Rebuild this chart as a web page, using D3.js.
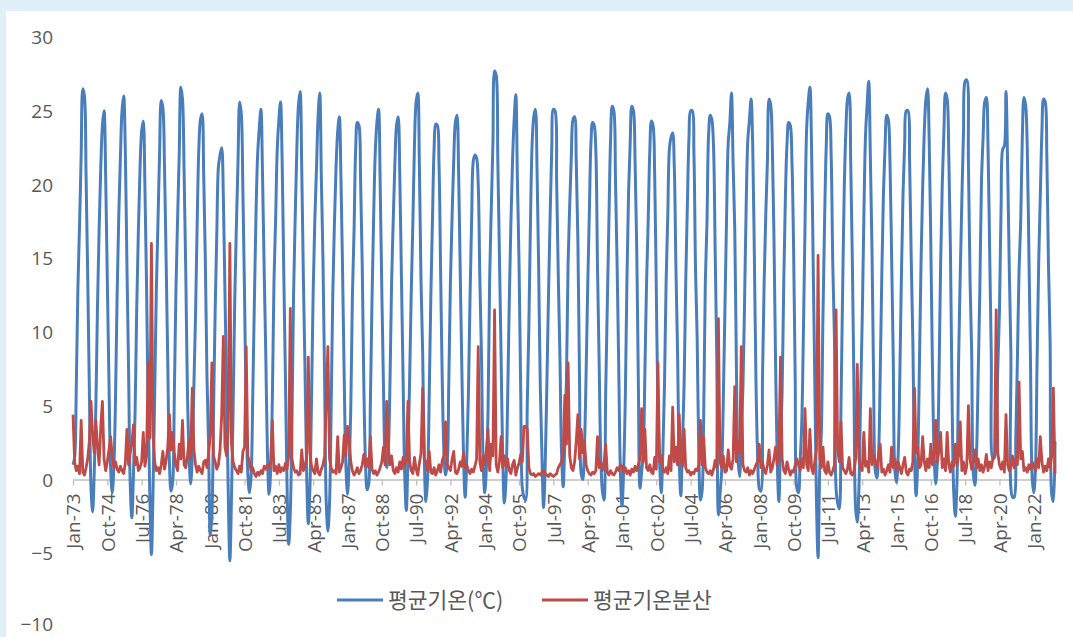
<!DOCTYPE html>
<html>
<head>
<meta charset="utf-8">
<script src="https://cdn.jsdelivr.net/npm/d3@7"></script>
<style>
  html, body { margin: 0; padding: 0; background: #dff0f9; }
  svg { display: block; }
  text { font-family: "Open Sans", "Noto Sans CJK KR", sans-serif; fill: #595959; }
</style>
</head>
<body>
<svg id="chart" width="1073" height="637"></svg>
<script>
// Monthly mean temperature (°C), one row per year, Jan..Dec (1973-2022, then Jan-Feb 2023)
const tempRows = [
  [1.0, 1.5, 6.2, 13.0, 17.2, 22.0, 26.5, 26.0, 20.6, 13.8, 6.2, -0.5],
  [-2.2, 0.5, 5.0, 11.8, 17.0, 21.2, 24.0, 25.0, 20.5, 13.5, 6.8, 0.8],
  [-0.9, 0.8, 5.4, 12.5, 17.8, 21.8, 25.0, 26.0, 22.4, 14.6, 7.6, -0.2],
  [-2.6, 0.3, 4.6, 11.6, 16.8, 21.0, 23.6, 24.3, 20.0, 13.2, 4.8, -1.0],
  [-5.1, -0.6, 5.8, 12.8, 17.4, 22.2, 25.7, 25.2, 21.2, 14.8, 8.0, 1.2],
  [-0.8, -0.2, 5.6, 12.8, 17.6, 22.0, 26.6, 25.8, 20.8, 14.2, 6.2, 1.8],
  [-0.3, 1.6, 6.4, 11.2, 17.4, 22.4, 24.4, 24.8, 20.6, 14.8, 7.0, 2.2],
  [-3.8, -2.4, 4.4, 11.4, 16.6, 21.2, 22.0, 22.5, 19.2, 12.6, 6.4, -0.8],
  [-5.5, -1.2, 4.8, 12.2, 17.2, 21.6, 25.6, 24.8, 19.4, 12.4, 4.6, 0.4],
  [-0.9, 0.2, 5.6, 12.0, 18.0, 22.0, 23.8, 25.1, 20.6, 14.2, 8.4, 1.8],
  [-1.0, 0.6, 5.4, 13.4, 17.6, 22.4, 24.4, 25.6, 21.6, 14.0, 7.0, -0.4],
  [-4.4, -2.2, 3.8, 12.6, 17.8, 22.4, 25.4, 26.3, 21.0, 13.6, 7.4, 0.4],
  [-3.0, -0.6, 5.6, 12.8, 17.6, 21.0, 24.6, 26.2, 20.4, 14.8, 6.6, -1.6],
  [-3.5, -1.6, 4.8, 12.6, 17.4, 21.2, 23.6, 24.6, 20.4, 14.0, 6.8, 1.0],
  [-1.0, 1.0, 4.8, 12.4, 16.8, 22.4, 24.2, 24.0, 20.4, 14.6, 6.4, 1.2],
  [-0.7, -0.3, 5.2, 12.2, 17.8, 22.2, 24.2, 25.1, 20.0, 12.8, 6.4, 1.6],
  [0.8, 2.0, 6.6, 13.4, 17.6, 21.4, 24.0, 24.6, 20.6, 13.8, 7.0, 0.4],
  [-2.1, 1.6, 6.6, 12.6, 17.4, 22.8, 25.6, 26.2, 21.2, 13.4, 8.6, 1.4],
  [-1.5, 0.0, 5.6, 12.4, 17.6, 22.4, 24.1, 24.0, 21.4, 14.0, 6.6, 2.0],
  [0.3, 1.0, 6.6, 13.4, 17.8, 21.6, 24.2, 24.7, 20.8, 14.0, 7.4, 1.6],
  [-1.2, 1.4, 5.8, 12.4, 17.8, 21.6, 22.0, 21.8, 20.0, 13.6, 8.4, 1.2],
  [-0.9, 0.8, 4.6, 13.6, 18.4, 22.8, 27.7, 27.4, 21.6, 15.0, 8.4, 1.4],
  [-1.6, 0.0, 5.4, 12.0, 17.4, 21.6, 24.4, 26.1, 20.2, 14.6, 6.0, -0.6],
  [-1.2, -1.4, 5.0, 10.4, 17.6, 22.8, 24.6, 25.1, 21.0, 14.2, 6.2, 1.6],
  [-1.9, 1.0, 6.4, 12.4, 17.8, 22.4, 25.1, 25.0, 20.2, 13.8, 8.4, 1.8],
  [-0.5, 2.6, 6.8, 14.6, 18.6, 22.0, 24.4, 24.6, 21.6, 16.2, 6.8, 0.4],
  [0.0, 2.2, 7.0, 13.0, 18.0, 22.8, 24.2, 24.0, 22.2, 14.4, 8.0, 1.6],
  [-0.8, -1.4, 5.8, 11.8, 17.6, 23.0, 25.3, 25.0, 20.4, 14.6, 7.6, 0.6],
  [-1.8, 0.6, 5.4, 13.4, 19.4, 22.8, 25.3, 25.0, 21.6, 15.8, 6.6, -0.6],
  [0.5, 1.8, 7.2, 13.2, 17.4, 22.2, 24.3, 24.0, 20.6, 12.8, 4.8, 1.2],
  [-0.9, 1.8, 6.4, 13.4, 17.8, 22.4, 23.2, 23.5, 21.2, 14.4, 8.6, 1.4],
  [-1.1, 2.4, 6.4, 13.4, 18.6, 23.2, 25.0, 25.0, 22.2, 14.2, 9.6, 1.8],
  [-1.4, -0.8, 4.4, 13.4, 17.4, 23.4, 24.7, 24.4, 22.6, 15.6, 8.2, -2.4],
  [-1.0, 0.6, 5.4, 11.6, 17.8, 22.8, 24.2, 26.2, 21.4, 17.0, 7.8, 1.4],
  [0.2, 3.6, 6.2, 12.0, 18.6, 23.0, 24.4, 25.8, 22.6, 15.2, 6.6, 1.6],
  [-0.6, -0.8, 7.0, 13.4, 18.0, 21.6, 25.8, 25.4, 22.6, 16.4, 7.8, 1.2],
  [-1.5, 2.6, 6.0, 13.4, 19.2, 22.8, 24.2, 24.0, 21.6, 15.8, 6.8, -0.6],
  [-0.9, 1.2, 3.8, 9.8, 17.2, 23.8, 25.6, 26.6, 22.6, 14.6, 6.6, -1.4],
  [-5.3, 0.6, 3.2, 11.2, 17.6, 22.6, 24.8, 24.6, 22.0, 14.6, 9.6, -0.6],
  [-1.6, -2.0, 4.8, 12.6, 19.6, 23.6, 25.8, 26.2, 21.4, 14.6, 5.8, -2.0],
  [-2.9, -0.6, 5.4, 10.8, 17.6, 23.2, 25.4, 27.0, 21.8, 15.6, 6.6, 0.6],
  [0.1, 1.6, 7.0, 13.8, 19.4, 22.6, 24.7, 24.4, 21.6, 15.2, 8.2, 0.6],
  [-0.2, 1.6, 6.8, 13.8, 19.4, 22.8, 25.0, 25.0, 21.6, 15.0, 9.4, 1.6],
  [-1.1, 1.4, 7.6, 14.6, 19.8, 23.6, 25.8, 26.5, 23.0, 16.0, 7.6, 1.8],
  [-0.3, 1.2, 6.8, 14.6, 20.0, 23.6, 26.2, 25.8, 22.0, 15.6, 5.6, -0.8],
  [-2.5, -0.2, 8.0, 13.8, 19.0, 23.6, 27.0, 27.1, 21.6, 13.6, 8.6, 0.4],
  [-0.4, 1.8, 7.2, 12.8, 20.2, 23.2, 25.6, 25.9, 22.6, 15.6, 8.4, 1.4],
  [1.5, 2.8, 7.6, 11.4, 18.4, 22.4, 22.6, 26.3, 21.4, 14.4, 8.6, -1.2],
  [-1.2, 2.8, 8.2, 14.2, 17.4, 23.2, 25.9, 25.4, 22.6, 15.6, 8.0, 0.2],
  [-0.9, 0.6, 7.8, 14.6, 19.2, 23.6, 25.8, 25.6, 22.0, 14.6, 9.4, -1.0],
  [-1.5, 2.6]
];

// Monthly variance of mean temperature, same layout
const varRows = [
  [4.4, 1.2, 0.6, 0.9, 0.4, 4.0, 0.5, 0.3, 0.8, 1.4, 2.6, 5.3],
  [3.0, 1.8, 4.0, 2.2, 1.0, 3.6, 5.3, 1.4, 0.6, 1.2, 2.0, 2.9],
  [1.6, 0.8, 1.2, 0.7, 0.5, 0.9, 0.6, 0.4, 1.1, 3.4, 1.0, 1.8],
  [2.4, 3.7, 1.0, 1.5, 0.6, 0.8, 1.2, 3.2, 0.9, 1.6, 7.9, 2.8],
  [16.0, 3.0, 1.2, 0.6, 0.8, 0.4, 1.0, 1.9, 0.7, 1.3, 2.2, 4.4],
  [2.0, 3.2, 1.8, 1.0, 0.6, 2.4, 1.4, 4.0, 1.0, 0.8, 1.6, 2.6],
  [1.4, 6.2, 2.0, 1.0, 0.5, 0.9, 0.6, 0.4, 1.2, 1.3, 0.8, 1.8],
  [3.0, 7.9, 1.6, 1.2, 0.7, 1.0, 2.0, 4.4, 9.7, 2.2, 1.6, 3.4],
  [16.0, 2.4, 1.2, 0.8, 0.6, 0.4, 0.9, 0.5, 1.9, 2.2, 9.0, 1.6],
  [1.2, 0.6, 0.8, 0.4, 0.2, 0.5, 0.3, 0.6, 0.4, 0.9, 0.7, 1.0],
  [0.8, 1.2, 4.0, 0.6, 0.9, 0.4, 1.0, 0.5, 0.8, 0.6, 1.1, 0.7],
  [1.6, 11.6, 1.4, 0.8, 0.5, 0.6, 0.3, 0.4, 2.0, 0.6, 1.0, 1.4],
  [8.3, 1.8, 0.9, 0.6, 0.4, 1.4, 0.5, 0.3, 0.7, 1.0, 1.6, 5.3],
  [9.0, 1.4, 0.8, 0.5, 0.6, 0.4, 2.9, 0.5, 0.8, 1.2, 3.0, 1.6],
  [3.6, 2.8, 1.2, 0.6, 0.3, 0.5, 0.8, 0.4, 0.6, 1.0, 1.7, 0.9],
  [1.4, 0.8, 2.9, 0.7, 0.4, 0.6, 0.3, 0.5, 0.8, 1.2, 2.2, 1.0],
  [5.3, 2.2, 1.0, 1.6, 0.6, 0.4, 0.8, 0.5, 1.2, 0.7, 1.5, 0.9],
  [1.4, 5.3, 1.2, 0.6, 0.4, 1.5, 0.7, 0.3, 1.1, 1.8, 6.2, 1.4],
  [1.2, 0.6, 1.9, 0.5, 0.4, 0.8, 0.3, 0.6, 1.0, 0.5, 1.3, 1.6],
  [3.9, 1.0, 0.8, 0.6, 1.4, 1.9, 0.5, 0.4, 0.7, 1.2, 0.9, 1.8],
  [0.8, 1.0, 0.6, 0.4, 0.7, 0.5, 0.9, 1.4, 9.0, 1.2, 0.6, 1.6],
  [1.0, 2.0, 3.4, 0.6, 2.4, 1.6, 11.5, 1.0, 0.5, 1.2, 2.9, 0.8],
  [1.6, 0.9, 1.4, 0.6, 0.4, 1.0, 1.3, 0.3, 0.8, 1.1, 1.7, 1.2],
  [3.6, 3.6, 3.4, 0.8, 0.4, 0.3, 0.4, 0.2, 0.3, 0.4, 0.3, 0.5],
  [0.6, 0.4, 0.3, 0.2, 0.4, 0.3, 0.2, 0.3, 0.4, 0.8, 1.0, 1.2],
  [1.8, 5.7, 2.4, 7.9, 1.6, 0.8, 0.6, 1.2, 2.6, 4.4, 1.4, 3.4],
  [1.8, 2.6, 1.0, 0.6, 0.4, 0.3, 0.5, 0.4, 0.6, 2.9, 0.8, 1.2],
  [0.6, 1.0, 2.4, 0.5, 0.3, 0.6, 0.4, 0.3, 0.5, 0.8, 0.6, 1.0],
  [0.9, 0.5, 0.8, 0.4, 0.6, 0.3, 0.7, 0.5, 0.9, 0.6, 1.0, 1.4],
  [4.8, 1.2, 3.4, 0.8, 0.6, 1.0, 0.5, 0.4, 1.5, 0.7, 7.9, 1.2],
  [1.6, 0.6, 0.5, 0.8, 0.4, 1.6, 0.6, 4.9, 1.2, 2.2, 1.0, 4.4],
  [1.4, 0.9, 3.4, 0.8, 0.5, 0.6, 0.3, 0.5, 0.4, 0.7, 0.6, 1.0],
  [4.0, 1.0, 2.9, 0.8, 0.5, 0.4, 0.6, 0.3, 0.7, 1.3, 0.8, 10.9],
  [1.2, 0.8, 1.6, 0.5, 0.6, 2.0, 0.9, 0.7, 1.4, 6.3, 1.2, 2.6],
  [1.8, 9.0, 1.0, 0.6, 0.5, 0.8, 0.3, 0.6, 0.4, 0.7, 1.0, 1.2],
  [2.4, 0.8, 1.2, 0.6, 0.4, 1.0, 2.0, 0.5, 0.8, 1.4, 2.2, 1.0],
  [1.6, 8.3, 1.4, 0.6, 0.4, 1.2, 0.7, 0.3, 0.6, 0.5, 1.0, 1.4],
  [1.0, 0.6, 1.4, 0.8, 4.8, 1.0, 0.6, 3.4, 0.8, 0.4, 1.2, 2.0],
  [15.2, 1.4, 0.8, 2.2, 0.6, 0.4, 1.2, 0.5, 0.3, 0.6, 1.0, 11.5],
  [2.0, 1.2, 3.9, 0.8, 0.6, 0.4, 0.7, 1.5, 0.4, 0.3, 0.6, 1.4],
  [7.8, 1.4, 0.8, 0.6, 3.2, 0.9, 1.2, 0.5, 4.8, 1.0, 1.6, 1.2],
  [0.8, 1.6, 2.4, 0.5, 0.7, 0.3, 0.6, 1.0, 0.5, 2.2, 0.8, 1.4],
  [0.6, 1.2, 0.8, 0.4, 1.0, 1.5, 0.5, 0.3, 0.7, 0.6, 1.2, 6.2],
  [1.8, 2.2, 0.8, 1.0, 2.9, 1.2, 0.6, 1.4, 0.8, 2.4, 1.0, 1.6],
  [4.0, 1.2, 2.0, 3.2, 0.8, 1.4, 0.6, 3.2, 1.0, 0.5, 1.2, 0.9],
  [2.4, 1.0, 1.6, 3.9, 0.6, 1.2, 0.4, 0.9, 5.0, 1.4, 0.7, 1.2],
  [2.0, 0.8, 1.4, 0.6, 1.0, 0.5, 0.9, 1.7, 0.6, 1.2, 0.8, 1.4],
  [1.6, 11.5, 1.8, 1.0, 0.7, 1.2, 0.5, 4.4, 1.0, 0.6, 0.9, 1.6],
  [0.8, 1.4, 1.0, 6.6, 1.4, 1.9, 0.6, 0.8, 0.5, 1.0, 0.7, 1.2],
  [0.9, 0.6, 1.4, 0.8, 2.9, 1.2, 0.5, 0.9, 0.6, 1.4, 0.8, 1.6],
  [6.2, 0.4]
];

const firstYear = 1973;
const monthAbbr = ["Jan","Feb","Mar","Apr","May","Jun","Jul","Aug","Sep","Oct","Nov","Dec"];

// Category axis labels shown every 21 months
const tickLabels = [
  "Jan-73","Oct-74","Jul-76","Apr-78","Jan-80","Oct-81","Jul-83","Apr-85",
  "Jan-87","Oct-88","Jul-90","Apr-92","Jan-94","Oct-95","Jul-97","Apr-99",
  "Jan-01","Oct-02","Jul-04","Apr-06","Jan-08","Oct-09","Jul-11","Apr-13",
  "Jan-15","Oct-16","Jul-18","Apr-20","Jan-22"
];
const yTickValues = [30, 25, 20, 15, 10, 5, 0, -5, -10];
const seriesNames = ["평균기온(℃)", "평균기온분산"];
const seriesColors = ["#4a7ebb", "#be4b48"];

// Build month categories like "Jan-73"
const categories = [];
tempRows.forEach((row, yi) => {
  row.forEach((_, mi) => {
    const yy = String((firstYear + yi) % 100).padStart(2, "0");
    categories.push(`${monthAbbr[mi]}-${yy}`);
  });
});
const temp = tempRows.flat();
const variance = varRows.flat();

const svg = d3.select("#chart");
const W = 1073, H = 637;

// white chart panel inside the light frame
svg.append("rect").attr("x", 6).attr("y", 11).attr("width", W - 6).attr("height", H - 11).attr("fill", "#ffffff");

const x = d3.scalePoint().domain(categories).range([73, 1055]);
const y = d3.scaleLinear().domain([-10, 30]).range([627, 37]);

// value axis labels (no axis line, no gridlines)
const yAxis = d3.axisLeft(y).tickValues(yTickValues).tickSize(0).tickPadding(0);
const yg = svg.append("g").attr("transform", "translate(53,0)").call(yAxis);
yg.select(".domain").remove();
yg.selectAll("text")
  .attr("x", 0).attr("dy", "0.35em")
  .style("font-family", '"Open Sans", sans-serif')
  .style("font-size", "19px").attr("fill", "#595959");
// keep the lowest label clear of the bottom edge
yg.selectAll(".tick").filter(d => d === -10).select("text").attr("y", -3);

// category axis at zero
const xAxis = d3.axisBottom(x).tickValues(tickLabels).tickSize(6).tickPadding(0).tickSizeOuter(0);
const xg = svg.append("g").attr("transform", `translate(0,${y(0)})`).call(xAxis);
xg.select(".domain").attr("stroke", "#bfbfbf").attr("stroke-width", 1.3);
xg.selectAll(".tick line").attr("stroke", "#bfbfbf").attr("stroke-width", 1.3);
xg.selectAll(".tick text")
  .attr("transform", "rotate(-90)")
  .attr("x", -14).attr("y", 0).attr("dy", "0.36em")
  .attr("text-anchor", "end")
  .style("font-family", '"Open Sans", sans-serif')
  .style("font-size", "19px").attr("fill", "#595959");

// series lines
const tempLine = d3.line()
  .x((d, i) => x(categories[i]))
  .y(d => y(d))
  .curve(d3.curveCatmullRom.alpha(0.5));
const varLine = d3.line()
  .x((d, i) => x(categories[i]))
  .y(d => y(d));

svg.append("path").datum(temp)
  .attr("d", tempLine).attr("fill", "none")
  .attr("stroke", seriesColors[0]).attr("stroke-width", 3)
  .attr("stroke-linejoin", "round");
svg.append("path").datum(variance)
  .attr("d", varLine).attr("fill", "none")
  .attr("stroke", seriesColors[1]).attr("stroke-width", 2.8)
  .attr("stroke-linejoin", "round");

// legend
const legendItems = [
  { name: seriesNames[0], color: seriesColors[0], x0: 337 },
  { name: seriesNames[1], color: seriesColors[1], x0: 542 }
];
const lg = svg.append("g");
legendItems.forEach(it => {
  lg.append("line").attr("x1", it.x0).attr("x2", it.x0 + 46)
    .attr("y1", 600).attr("y2", 600)
    .attr("stroke", it.color).attr("stroke-width", 3);
  lg.append("text").attr("x", it.x0 + 51).attr("y", 600).attr("dy", "0.36em")
    .style("font-family", '"Noto Sans CJK KR", sans-serif')
    .style("font-size", "21.5px").attr("fill", "#595959")
    .text(it.name);
});
</script>
</body>
</html>
